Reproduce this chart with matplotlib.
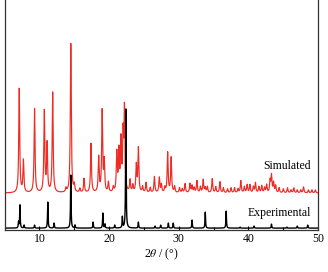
import numpy as np
import matplotlib
matplotlib.use("Agg")
import matplotlib.pyplot as plt
from matplotlib.ticker import MultipleLocator

plt.rcParams["font.family"] = ["Liberation Serif", "DejaVu Serif"]
plt.rcParams["mathtext.fontset"] = "stix"

# peak lists: position (2theta) and height (px-ish units)
sim_pos = [7.1, 7.7, 9.3, 10.7, 11.1, 11.9, 13.8, 14.5, 15.0, 15.8, 16.4, 17.4,
           18.5, 19.0, 19.3, 19.9, 20.6, 21.1, 21.4, 21.7, 22.0, 22.2, 23.0,
           23.4, 23.9, 24.2, 24.8, 25.3, 25.9, 26.5, 27.2, 27.5, 28.0, 28.4,
           28.9, 29.4, 30.1, 30.5, 30.9, 31.6, 31.9, 32.2, 32.6, 33.1, 33.5,
           33.8, 34.1, 34.8, 35.3, 35.9, 36.4, 37.0, 37.5, 38.0, 38.5, 38.9,
           39.4, 39.8, 40.2, 40.7, 41.0, 41.5, 41.9, 42.3, 42.6, 43.1, 43.3,
           43.6, 43.9, 44.4, 45.0, 45.6, 46.1, 46.5, 47.0, 47.5, 47.9, 48.6,
           49.1, 49.6]
sim_h = [104, 32, 84, 81, 48, 100, 4, 149, 7, 4, 14, 49,
         35, 81, 30, 10, 5, 39, 40, 50, 54, 81, 12,
         7, 27, 44, 6, 10, 5, 16, 15, 8, 5, 40,
         35, 6, 5, 4, 9, 9, 7, 5, 12, 6, 13,
         5, 6, 14, 6, 11, 5, 4, 5, 5, 4, 12,
         6, 8, 8, 6, 10, 6, 7, 5, 8, 12, 17,
         10, 7, 5, 4, 5, 3, 5, 3, 3, 6, 3,
         3, 3]

exp_pos = [7.0, 7.2, 7.8, 9.3, 11.2, 12.1, 14.5, 15.1, 17.7, 19.1, 19.4, 20.8,
           21.9, 22.4, 24.2, 26.6, 27.4, 28.5, 29.2, 31.9, 33.8, 36.8, 38.8,
           40.8, 43.3, 45.5, 47.0, 48.5]
exp_h = [6, 23, 3, 3, 26, 5, 53, 3, 6, 15, 4, 3,
         11, 119, 6, 2, 3, 5, 5, 8, 16, 17, 1,
         2, 4, 1, 2, 3]

sim_offset = 38
tth = np.arange(5, 50.001, 0.005)


def profile(pos, h, w):
    y = np.zeros_like(tth)
    for c, a in zip(pos, h):
        y += a / (1 + ((tth - c) / w) ** 2)
    return y


exp_y = profile(exp_pos, exp_h, 0.045) + 2
sim_y = profile(sim_pos, sim_h, 0.08) + sim_offset - 1

fig = plt.figure(figsize=(3.28, 2.72), dpi=100)
ax = fig.add_axes([0.014, 0.154, 0.956, 0.846])
ax.plot(tth, sim_y, color="#ee2b24", lw=0.85)
ax.plot(tth, exp_y, color="black", lw=1.0)

ax.set_xlim(5, 50)
ax.set_ylim(0, 230)
ax.set_yticks([])
ax.xaxis.set_major_locator(MultipleLocator(10))
ax.xaxis.set_minor_locator(MultipleLocator(5))
ax.tick_params(axis="x", which="major", direction="in", length=3, width=0.8,
               labelsize=8.5, pad=2)
ax.tick_params(axis="x", which="minor", direction="in", length=2, width=0.8)
ax.spines["top"].set_visible(False)
for s in ["left", "right", "bottom"]:
    ax.spines[s].set_linewidth(0.9)
    ax.spines[s].set_color("#333333")

ax.text(48.9, 64, "Simulated", ha="right", va="center", fontsize=8.5)
ax.text(48.9, 17, "Experimental", ha="right", va="center", fontsize=8.5)
ax.set_xlabel(r"2$\it{\theta}$ / (°)", fontsize=8.5, labelpad=1)

fig.savefig("out.png", dpi=100)
